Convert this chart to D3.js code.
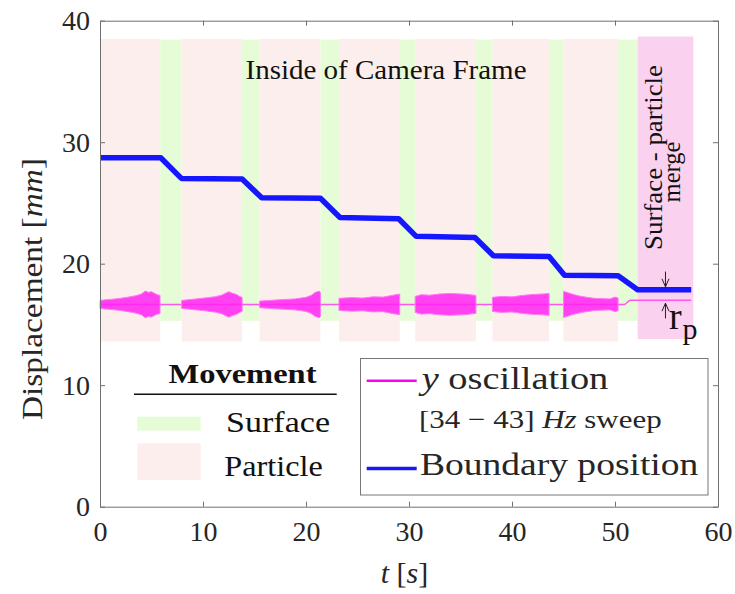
<!DOCTYPE html>
<html>
<head>
<meta charset="utf-8">
<script src="https://d3js.org/d3.v7.min.js"></script>
<style>
  body { margin: 0; background: #fff; }
  svg { display: block; font-family: "Liberation Serif", "Times New Roman", serif; }
</style>
</head>
<body>
<svg width="735" height="594"></svg>
<script>
// shaded movement bands (t in s, displacement in mm)
var particleStart = [0, 7.93, 15.5, 23.2, 30.6, 38.1, 45.0];
var particleEnd   = [5.85, 13.8, 21.4, 29.1, 36.5, 43.6, 50.3];
var surfaceStart  = [5.85, 13.8, 21.4, 29.1, 36.5, 43.6, 50.3];
var surfaceEnd    = [7.93, 15.5, 23.2, 30.6, 38.1, 45.0, 52.2];
var particleRange = [13.6, 38.5];
var surfaceRange  = [15.3, 38.45];
var mergeBand     = [52.2, 57.6];
var mergeRange    = [13.8, 38.7];

// boundary position
var boundaryT = [0, 5.9, 7.9, 13.8, 15.7, 21.4, 23.3, 29.0, 30.7, 36.4, 38.2, 43.6, 45.1, 50.3, 52.2, 57.4];
var boundaryY = [28.72, 28.72, 27.02, 26.97, 25.42, 25.38, 23.8, 23.7, 22.25, 22.15, 20.65, 20.6, 19.05, 19.0, 17.85, 17.85];

// y oscillation: envelope half-width (mm) read per particle segment
var oscCenter = 16.65;
var oscTimes = [
  [0, 0.5, 1.0, 2.0, 2.9, 3.5, 4.0, 4.4, 4.7, 5.0, 5.5, 5.83],
  [7.93, 9.0, 10.4, 11.2, 11.8, 12.5, 12.9, 13.2, 13.6, 13.8],
  [15.5, 17.0, 18.9, 20.0, 20.5, 20.9, 21.3, 21.4],
  [23.2, 24.5, 25.5, 26.5, 27.5, 28.2, 29.1],
  [30.6, 31.2, 32.0, 33.0, 34.0, 35.5, 36.5],
  [38.1, 39.0, 40.0, 41.0, 42.0, 43.0, 43.6],
  [45.0, 45.3, 45.8, 46.5, 47.3, 48.0, 49.5, 50.0, 50.3]
];
var oscAmps = [
  [0.33, 0.38, 0.41, 0.5, 0.62, 0.72, 0.85, 1.1, 1.0, 1.04, 0.82, 0.74],
  [0.33, 0.42, 0.55, 0.64, 0.76, 1.05, 0.9, 0.84, 0.64, 0.58],
  [0.27, 0.36, 0.45, 0.58, 0.74, 0.99, 1.09, 0.99],
  [0.5, 0.56, 0.52, 0.62, 0.6, 0.72, 0.85],
  [0.66, 0.8, 0.76, 0.86, 0.9, 0.84, 0.74],
  [0.58, 0.66, 0.62, 0.74, 0.82, 0.86, 0.9],
  [1.07, 1.0, 0.86, 0.7, 0.58, 0.5, 0.45, 0.6, 0.52]
];
var oscLineT = [0, 50.9, 51.5, 57.4];
var oscLineY = [16.65, 16.65, 17.0, 17.0];

var xTicks = [0, 10, 20, 30, 40, 50, 60];
var yTicks = [0, 10, 20, 30, 40];

// r_p annotation
var arrowT = 54.9;
var downArrow = [19.35, 18.1];
var upArrow = [15.5, 16.75];

var svg = d3.select("svg");
var plotL = 100, plotR = 718, plotT = 20.7, plotB = 506.7;
var x = d3.scaleLinear().domain([0, 60]).range([plotL, plotR]);
var y = d3.scaleLinear().domain([0, 40]).range([plotB, plotT]);

var pink = "#fdeeee", green = "#e5fcd6", merge = "#fad1ee";

// bands
var bands = svg.append("g");
bands.selectAll(".p").data(particleStart).enter().append("rect")
  .attr("x", function(d) { return x(d); })
  .attr("width", function(d, i) { return x(particleEnd[i]) - x(d); })
  .attr("y", y(particleRange[1]))
  .attr("height", y(particleRange[0]) - y(particleRange[1]))
  .attr("fill", pink);
bands.selectAll(".s").data(surfaceStart).enter().append("rect")
  .attr("x", function(d) { return x(d); })
  .attr("width", function(d, i) { return x(surfaceEnd[i]) - x(d); })
  .attr("y", y(surfaceRange[1]))
  .attr("height", y(surfaceRange[0]) - y(surfaceRange[1]))
  .attr("fill", green);
bands.append("rect")
  .attr("x", x(mergeBand[0]))
  .attr("width", x(mergeBand[1]) - x(mergeBand[0]))
  .attr("y", y(mergeRange[1]))
  .attr("height", y(mergeRange[0]) - y(mergeRange[1]))
  .attr("fill", merge);

// oscillation line and envelopes
svg.append("path")
  .datum(d3.zip(oscLineT, oscLineY))
  .attr("fill", "none")
  .attr("stroke", "#ff55ee")
  .attr("stroke-width", 1.5)
  .attr("d", d3.line().curve(d3.curveMonotoneX)
    .x(function(d) { return x(d[0]); })
    .y(function(d) { return y(d[1]); }));

var area = d3.area()
  .x(function(d) { return x(d[0]); })
  .y0(function(d) { return y(oscCenter - d[1]); })
  .y1(function(d) { return y(oscCenter + d[1]); });
svg.append("g").selectAll("path").data(oscTimes).enter().append("path")
  .attr("d", function(d, i) { return area(d3.zip(d, oscAmps[i])); })
  .attr("fill", "#ff22f2")
  .attr("fill-opacity", 0.85)
  .attr("stroke", "#ff7af4")
  .attr("stroke-width", 1);

// boundary position
svg.append("path")
  .datum(d3.zip(boundaryT, boundaryY))
  .attr("fill", "none")
  .attr("stroke", "#1717ff")
  .attr("stroke-width", 5.5)
  .attr("stroke-linejoin", "round")
  .attr("d", d3.line()
    .x(function(d) { return x(d[0]); })
    .y(function(d) { return y(d[1]); }));

// axes (ticks inward on all four sides)
var axisColor = "#707070";
function styleAxis(g) {
  g.select(".domain").attr("stroke", axisColor);
  g.selectAll(".tick line").attr("stroke", axisColor);
  g.selectAll("text").attr("fill", "#262626").style("font-size", "28px")
    .style("font-family", "'Liberation Serif', serif");
}
svg.append("g").attr("transform", "translate(0," + plotB + ")")
  .call(d3.axisBottom(x).tickValues(xTicks).tickSize(-5).tickSizeOuter(0).tickPadding(14))
  .call(styleAxis);
svg.append("g").attr("transform", "translate(0," + plotT + ")")
  .call(d3.axisTop(x).tickValues(xTicks).tickSize(-5).tickSizeOuter(0).tickFormat(""))
  .call(styleAxis);
svg.append("g").attr("transform", "translate(" + plotL + ",0)")
  .call(d3.axisLeft(y).tickValues(yTicks).tickSize(-5).tickSizeOuter(0).tickPadding(10))
  .call(styleAxis);
svg.append("g").attr("transform", "translate(" + plotR + ",0)")
  .call(d3.axisRight(y).tickValues(yTicks).tickSize(-5).tickSizeOuter(0).tickFormat(""))
  .call(styleAxis);

// axis labels
var ylab = svg.append("text")
  .attr("transform", "translate(41.5,289) rotate(-90)")
  .attr("text-anchor", "middle")
  .attr("font-size", 30).attr("fill", "#262626")
  .attr("textLength", 262).attr("lengthAdjust", "spacingAndGlyphs");
ylab.append("tspan").text("Displacement [");
ylab.append("tspan").attr("font-style", "italic").text("mm");
ylab.append("tspan").text("]");

var xlab = svg.append("text")
  .attr("x", 404.5).attr("y", 583)
  .attr("text-anchor", "middle")
  .attr("font-size", 30).attr("fill", "#262626");
xlab.append("tspan").attr("font-style", "italic").text("t");
xlab.append("tspan").text("\u00a0[");
xlab.append("tspan").attr("font-style", "italic").text("s");
xlab.append("tspan").text("]");

// annotations
svg.append("text")
  .attr("x", 386).attr("y", 79)
  .attr("text-anchor", "middle")
  .attr("font-size", 27).attr("fill", "#111")
  .attr("textLength", 281).attr("lengthAdjust", "spacingAndGlyphs")
  .text("Inside of Camera Frame");

svg.append("text")
  .attr("transform", "translate(661.5,157.5) rotate(-90)")
  .attr("text-anchor", "middle")
  .attr("font-size", 25).attr("fill", "#111")
  .attr("textLength", 185).attr("lengthAdjust", "spacingAndGlyphs")
  .text("Surface - particle");
svg.append("text")
  .attr("transform", "translate(679.5,172) rotate(-90)")
  .attr("text-anchor", "middle")
  .attr("font-size", 25).attr("fill", "#111")
  .attr("textLength", 61).attr("lengthAdjust", "spacingAndGlyphs")
  .text("merge");

function arrow(from, to) {
  var ax = x(arrowT), y0 = y(from), y1 = y(to);
  var dir = y1 > y0 ? -1 : 1;
  svg.append("path")
    .attr("d", "M" + ax + "," + y0 + "L" + ax + "," + y1 +
      "M" + (ax - 3.5) + "," + (y1 + dir * 8) + "L" + ax + "," + y1 + "L" + (ax + 3.5) + "," + (y1 + dir * 8))
    .attr("fill", "none").attr("stroke", "#222").attr("stroke-width", 1);
}
arrow(downArrow[0], downArrow[1]);
arrow(upArrow[0], upArrow[1]);
svg.append("text").attr("x", 669).attr("y", 328.5)
  .attr("font-size", 38).attr("fill", "#111").text("r");
svg.append("text").attr("x", 682.5).attr("y", 338.5)
  .attr("font-size", 30).attr("fill", "#111").text("p");

// legend: movement
var lg1 = svg.append("g");
lg1.append("text").attr("x", 242.5).attr("y", 383.3)
  .attr("text-anchor", "middle").attr("font-size", 28).attr("font-weight", "bold")
  .attr("fill", "#111").attr("textLength", 148).attr("lengthAdjust", "spacingAndGlyphs")
  .text("Movement");
lg1.append("line").attr("x1", 134).attr("x2", 336.7).attr("y1", 394.3).attr("y2", 394.3)
  .attr("stroke", "#111").attr("stroke-width", 1.6);
lg1.append("rect").attr("x", 137.3).attr("y", 416.7).attr("width", 63.4).attr("height", 14)
  .attr("fill", green);
lg1.append("rect").attr("x", 137.3).attr("y", 443.3).attr("width", 63.4).attr("height", 36.7)
  .attr("fill", pink);
lg1.append("text").attr("x", 226).attr("y", 432.3)
  .attr("font-size", 29).attr("fill", "#111")
  .attr("textLength", 104).attr("lengthAdjust", "spacingAndGlyphs").text("Surface");
lg1.append("text").attr("x", 224.3).attr("y", 475.7)
  .attr("font-size", 29).attr("fill", "#111")
  .attr("textLength", 98.4).attr("lengthAdjust", "spacingAndGlyphs").text("Particle");

// legend: series
var lg2 = svg.append("g");
lg2.append("rect").attr("x", 360.5).attr("y", 358.5).attr("width", 347.5).attr("height", 136.5)
  .attr("fill", "#fff").attr("stroke", "#777").attr("stroke-width", 1);
lg2.append("line").attr("x1", 366.7).attr("x2", 416.7).attr("y1", 380.7).attr("y2", 380.7)
  .attr("stroke", "#ff00ee").attr("stroke-width", 2.5);
lg2.append("line").attr("x1", 366.7).attr("x2", 416.7).attr("y1", 468.5).attr("y2", 468.5)
  .attr("stroke", "#1717ff").attr("stroke-width", 3.5);
var t1 = lg2.append("text").attr("x", 421.7).attr("y", 389.3)
  .attr("font-size", 31).attr("fill", "#262626")
  .attr("textLength", 186.6).attr("lengthAdjust", "spacingAndGlyphs");
t1.append("tspan").attr("font-style", "italic").text("y");
t1.append("tspan").text(" oscillation");
var t2 = lg2.append("text").attr("x", 419).attr("y", 428.3)
  .attr("font-size", 26).attr("fill", "#262626")
  .attr("textLength", 242.7).attr("lengthAdjust", "spacingAndGlyphs");
t2.append("tspan").text("[34 \u2212 43] ");
t2.append("tspan").attr("font-style", "italic").text("Hz");
t2.append("tspan").text(" sweep");
lg2.append("text").attr("x", 420).attr("y", 475)
  .attr("font-size", 32).attr("fill", "#262626")
  .attr("textLength", 278.3).attr("lengthAdjust", "spacingAndGlyphs")
  .text("Boundary position");
</script>
</body>
</html>
